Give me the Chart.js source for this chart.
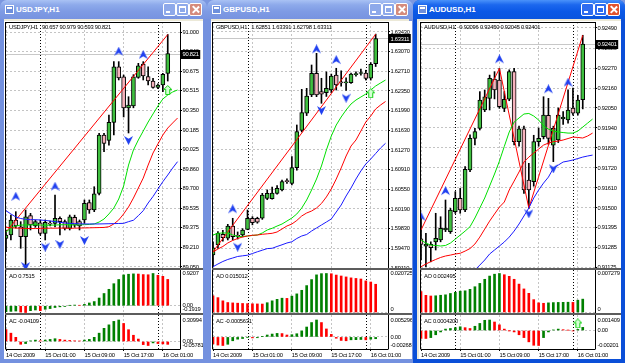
<!DOCTYPE html>
<html><head><meta charset="utf-8">
<script src="https://cdn.jsdelivr.net/npm/chart.js@4.4.1/dist/chart.umd.min.js"></script>
<style>
html,body{margin:0;padding:0}
body{width:625px;height:363px;overflow:hidden;position:relative;background:#7b97e0;font-family:"Liberation Sans",Arial,sans-serif}
.win{position:absolute;top:0;height:363px;box-sizing:border-box;border-radius:7px 7px 0 0;overflow:hidden}
.win.ina{background:#7491df}
.win.act{background:#0b4fd8}
.tb{position:absolute;left:0;right:0;top:0;height:19px}
.ina .tb{background:linear-gradient(#a9c2f4 0%,#8eaaeb 25%,#7e9be4 60%,#7793e0 100%)}
.act .tb{background:linear-gradient(#4a92fa 0%,#1c68ee 25%,#0b58e6 60%,#0a54de 100%)}
.ico{position:absolute;left:5px;top:5px;width:7px;height:7px;border:1px solid #fff;background:#6d8fdc}
.ico::after{content:'';position:absolute;left:1px;top:1px;width:5px;height:2px;background:#fff}
.tt{position:absolute;left:16px;top:4px;font:bold 8px "Liberation Sans",Arial,sans-serif;color:#fff;white-space:nowrap;line-height:11px}
.b{position:absolute;top:3px;width:11px;height:11px;border:1px solid #fff;border-radius:2px}
.ina .b{background:#8ea9ea}
.act .b{background:#2f6cf0}
.ina .b.cls{background:#d58b7c}
.act .b.cls{background:#e2532c}
.b.mn{right:31px}.b.mx{right:18px}.b.cls{right:5px}
.b.mn::after{content:'';position:absolute;left:2px;top:7px;width:4px;height:2px;background:#fff}
.b.mx::after{content:'';position:absolute;left:2px;top:2px;width:5px;height:4px;border:1px solid #fff;border-top-width:2px}
.b.cls::before,.b.cls::after{content:'';position:absolute;left:5px;top:1px;width:1.5px;height:9px;background:#fff;transform:rotate(45deg)}
.b.cls::after{transform:rotate(-45deg)}
.cl{position:absolute;left:4px;right:4px;top:19px;bottom:4px;background:#ece9d8}
.cw{position:absolute;background:#fff}
.sep{position:absolute;height:2px;background:#5c5c5c}
canvas{position:absolute}
</style>
</head><body>
<script>
// ---------------- shared time axis ----------------
const barHours = [17,18,19,20,21,22,23,0,1,2,3,4,5,6,7,8,9,10,11,12,13,14,15,16,17,18,19,20,21,22,23,0,1,2];
const xTickIndex = [0, 8, 16, 24, 32];
const xTickLabels = ['14 Oct 2009', '15 Oct 01:00', '15 Oct 09:00', '15 Oct 17:00', '16 Oct 01:00'];

// ---------------- USDJPY ----------------
const usdjpyTicks = ['91.000','90.840','90.675','90.515','90.350','90.185','90.025','89.860','89.700','89.535','89.375','89.210','89.050'];
const usdjpyRange = [89.0415, 91.083];
const usdjpyOpen  = [89.288,89.315,89.440,89.384,89.301,89.476,89.390,89.417,89.329,89.410,89.412,89.454,89.426,89.371,89.462,89.426,89.440,89.584,89.523,89.661,90.145,90.100,90.250,90.710,90.627,90.369,90.386,90.624,90.734,90.630,90.593,90.541,90.560,90.657];
const usdjpyHigh  = [89.357,89.481,89.509,89.426,89.523,89.495,89.440,89.440,89.440,89.430,89.647,89.467,89.440,89.481,89.480,89.440,89.606,89.606,89.716,90.159,90.159,90.311,90.754,90.754,90.643,90.463,90.646,90.740,90.754,90.712,90.616,90.570,90.657,90.979];
const usdjpyLow   = [89.177,89.274,89.373,89.205,89.066,89.357,89.380,89.315,89.274,89.390,89.384,89.315,89.357,89.357,89.380,89.357,89.412,89.495,89.509,89.647,90.007,90.060,90.145,90.602,90.295,90.162,90.371,90.616,90.602,90.560,90.533,90.530,90.505,90.593];
const usdjpyClose = [89.315,89.440,89.390,89.301,89.467,89.398,89.426,89.329,89.420,89.405,89.454,89.426,89.371,89.467,89.396,89.390,89.578,89.523,89.656,90.145,90.076,90.250,90.712,90.618,90.369,90.394,90.629,90.720,90.635,90.593,90.541,90.560,90.649,90.821];
const usdjpyJaw   = [89.517,89.490,89.465,89.452,89.446,89.443,89.442,89.440,89.436,89.432,89.426,89.421,89.415,89.412,89.410,89.408,89.407,89.407,89.407,89.407,89.408,89.409,89.410,89.411,89.412,89.426,89.438,89.476,89.517,89.581,89.635,89.697,89.758,89.813,89.871,89.924];
const usdjpyTeeth = [89.380,89.376,89.373,89.371,89.370,89.369,89.369,89.370,89.371,89.372,89.372,89.373,89.372,89.371,89.372,89.373,89.374,89.375,89.376,89.377,89.378,89.384,89.407,89.440,89.490,89.548,89.622,89.705,89.788,89.896,89.996,90.071,90.145,90.203,90.245,90.286];
const usdjpyLips  = [89.340,89.373,89.390,89.398,89.398,89.399,89.400,89.398,89.396,89.397,89.398,89.400,89.401,89.400,89.399,89.400,89.401,89.403,89.407,89.423,89.448,89.490,89.539,89.614,89.722,89.896,90.021,90.104,90.178,90.253,90.320,90.386,90.444,90.477,90.502,90.519];
const usdjpyZigZag = [[0, 89.340], [33, 90.979]];
const usdjpyFractalUp = [[2, 89.633], [10, 89.716], [23, 90.837], [28, 90.809]];
const usdjpyFractalDown = [[4, 89.058], [8, 89.218], [11, 89.241], [16, 89.274], [25, 90.104]];
const usdjpySignal = [[33, 90.519]];
const usdjpyAO = [-0.17,-0.16,-0.15,-0.18,-0.1919,-0.14,-0.12,-0.14,-0.10,-0.08,-0.05,-0.03,-0.02,0.01,0.02,0.015,0.04,0.08,0.12,0.22,0.35,0.47,0.63,0.75,0.88,0.90,0.91,0.905,0.89,0.885,0.9207,0.87,0.84,0.7515];
const usdjpyAC = [0.17,0.12,0.06,-0.04,-0.03,0.01,0.02,0.01,0.02,0.03,0.04,0.03,0.02,0.015,0.01,0.008,0.02,0.03,0.06,0.12,0.19,0.24,0.29,0.30994,0.26,0.17,0.09,0.035,-0.045,-0.05781,-0.02,-0.03,-0.035,-0.04109];
const usdjpyAOLevels = [[0.9207,'0.9207'],[0,'0.00'],[-0.1919,'-0.1919']];
const usdjpyACLevels = [[0.30994,'0.30994'],[0,'0.00'],[-0.05781,'-0.05781']];

// ---------------- GBPUSD ----------------
const gbpusdTicks = ['1.63430','1.63070','1.62710','1.62350','1.61990','1.61630','1.61270','1.60910','1.60550','1.60190','1.59830','1.59470','1.59110'];
const gbpusdRange = [1.59110, 1.63613];
const gbpusdOpen  = [1.59350,1.59531,1.59727,1.59654,1.59879,1.59710,1.59714,1.59818,1.60020,1.60020,1.60020,1.60385,1.60380,1.60477,1.60538,1.60700,1.60660,1.60946,1.61630,1.61942,1.62277,1.62674,1.62340,1.62320,1.62368,1.62643,1.62520,1.62500,1.62502,1.62650,1.62670,1.62680,1.62583,1.62851];
const gbpusdHigh  = [1.59591,1.59775,1.59800,1.59909,1.60020,1.59770,1.59830,1.60172,1.60050,1.60040,1.60477,1.60540,1.60590,1.60620,1.60720,1.60740,1.61148,1.61728,1.62381,1.62399,1.62826,1.63040,1.62583,1.62700,1.62660,1.62766,1.62720,1.62590,1.62680,1.62700,1.62750,1.62730,1.62870,1.63391];
const gbpusdLow   = [1.59134,1.59471,1.59600,1.59623,1.59623,1.59640,1.59680,1.59810,1.59900,1.59930,1.60000,1.60360,1.60370,1.60460,1.60520,1.60660,1.60629,1.60900,1.61600,1.61900,1.62246,1.62246,1.62125,1.62250,1.62320,1.62368,1.62440,1.62360,1.62490,1.62620,1.62640,1.62550,1.62550,1.62798];
const gbpusdClose = [1.59480,1.59745,1.59665,1.59879,1.59684,1.59690,1.59806,1.60020,1.59940,1.59950,1.60446,1.60477,1.60480,1.60569,1.60690,1.60690,1.60946,1.61605,1.61953,1.62258,1.62674,1.62277,1.62290,1.62400,1.62624,1.62460,1.62500,1.62510,1.62661,1.62660,1.62680,1.62580,1.62839,1.63311];
const gbpusdJaw   = [1.59134,1.59183,1.59229,1.59266,1.59293,1.59321,1.59333,1.59344,1.59375,1.59407,1.59436,1.59465,1.59471,1.59504,1.59535,1.59568,1.59590,1.59650,1.59696,1.59723,1.59787,1.59842,1.59897,1.59952,1.60007,1.60135,1.60263,1.60428,1.60574,1.60739,1.60886,1.61014,1.61105,1.61206,1.61307,1.61393];
const gbpusdTeeth = [1.59403,1.59458,1.59504,1.59568,1.59614,1.59650,1.59677,1.59696,1.59709,1.59714,1.59727,1.59736,1.59745,1.59769,1.59824,1.59879,1.59915,1.59980,1.60062,1.60117,1.60153,1.60208,1.60291,1.60410,1.60556,1.60739,1.60941,1.61160,1.61343,1.61453,1.61617,1.61783,1.61892,1.62021,1.62094,1.62158];
const gbpusdLips  = [1.59714,1.59745,1.59751,1.59751,1.59714,1.59687,1.59687,1.59696,1.59705,1.59714,1.59751,1.59806,1.59837,1.59878,1.59915,1.59970,1.60025,1.60099,1.60208,1.60355,1.60538,1.60739,1.60977,1.61270,1.61526,1.61727,1.61874,1.62002,1.62112,1.62185,1.62240,1.62295,1.62368,1.62442,1.62497,1.62551];
const gbpusdZigZag = [[0, 1.59408], [33, 1.63391]];
const gbpusdFractalUp = [[4, 1.60185], [21, 1.63113], [25, 1.62917]];
const gbpusdFractalDown = [[5, 1.59500], [22, 1.62002], [27, 1.62227]];
const gbpusdSignal = [[32, 1.62308]];
const gbpusdAO = [0.00880,0.00790,0.00620,0.00530,0.00510,0.00495,0.00480,0.00470,0.00462,0.00455,0.00450,0.00520,0.00620,0.00700,0.00760,0.00750,0.00870,0.00990,0.01180,0.01430,0.01750,0.02000,0.02065,0.020725,0.02060,0.01990,0.01940,0.01890,0.01840,0.01810,0.01780,0.01680,0.01620,0.015012];
const gbpusdAC = [-0.00220,-0.00255,-0.00268,-0.00230,-0.00120,-0.00070,-0.00050,-0.00010,-0.00030,-0.00025,0.00010,0.00060,0.00090,0.00110,0.00105,0.00060,0.00070,0.00100,0.00190,0.00310,0.00450,0.005296,0.00450,0.00250,0.00080,-0.00040,-0.00110,-0.00120,-0.00090,-0.00085,-0.00080,-0.00090,-0.00070,-0.0005631];
const gbpusdAOLevels = [[0.020725,'0.020725'],[0,'0']];
const gbpusdACLevels = [[0.005296,'0.005296'],[0,'0.00'],[-0.00268,'-0.00268']];

// ---------------- AUDUSD ----------------
const audusdTicks = ['0.92490','0.92380','0.92270','0.92160','0.92050','0.91940','0.91830','0.91720','0.91610','0.91500','0.91395','0.91285','0.91175'];
const audusdRange = [0.91170, 0.92523];
const audusdOpen  = [0.91330,0.91290,0.91300,0.91314,0.91324,0.91379,0.91370,0.91480,0.91553,0.91489,0.91709,0.91883,0.91938,0.92039,0.92103,0.92209,0.92204,0.92048,0.92098,0.92250,0.91865,0.91935,0.91654,0.91645,0.91865,0.91892,0.92010,0.91846,0.91874,0.91990,0.91984,0.92049,0.92021,0.92096];
const audusdHigh  = [0.91460,0.91361,0.91314,0.91471,0.91452,0.91544,0.91498,0.91590,0.91608,0.91728,0.91902,0.91938,0.92140,0.92149,0.92231,0.92250,0.92268,0.92140,0.92260,0.92268,0.91950,0.91950,0.91746,0.91900,0.91940,0.92112,0.92103,0.91950,0.92050,0.92030,0.92150,0.92160,0.92120,0.92450];
const audusdLow   = [0.91215,0.91177,0.91204,0.91269,0.91314,0.91370,0.91360,0.91470,0.91471,0.91480,0.91700,0.91847,0.91929,0.92030,0.92039,0.92100,0.92048,0.92030,0.92090,0.91847,0.91840,0.91580,0.91498,0.91620,0.91840,0.91880,0.91850,0.91755,0.91860,0.91960,0.91966,0.92011,0.92010,0.92045];
const audusdClose = [0.91300,0.91302,0.91282,0.91333,0.91388,0.91390,0.91489,0.91553,0.91489,0.91713,0.91883,0.91920,0.92094,0.92112,0.92213,0.92149,0.92057,0.92098,0.92250,0.91865,0.91935,0.91599,0.91599,0.91865,0.91883,0.92011,0.91883,0.91938,0.92011,0.92000,0.92039,0.92021,0.92094,0.92401];
const audusdJaw   = [null,null,null,null,null,null,null,null,null,null,0.91137,0.91159,0.91186,0.91214,0.91247,0.91269,0.91291,0.91313,0.91340,0.91373,0.91412,0.91456,0.91500,0.91555,0.91599,0.91637,0.91670,0.91718,0.91736,0.91753,0.91758,0.91764,0.91772,0.91780,0.91786,0.91791];
const audusdTeeth = [0.91177,0.91192,0.91205,0.91217,0.91228,0.91236,0.91241,0.91247,0.91251,0.91263,0.91277,0.91302,0.91340,0.91384,0.91428,0.91467,0.91505,0.91533,0.91599,0.91648,0.91698,0.91753,0.91780,0.91802,0.91824,0.91846,0.91857,0.91865,0.91868,0.91874,0.91882,0.91890,0.91888,0.91885,0.91896,0.91912];
const audusdLips  = [0.91324,0.91307,0.91296,0.91294,0.91291,0.91294,0.91307,0.91329,0.91351,0.91373,0.91397,0.91445,0.91500,0.91555,0.91621,0.91687,0.91758,0.91839,0.91918,0.91973,0.91995,0.92017,0.92020,0.92006,0.91984,0.91951,0.91934,0.91923,0.91918,0.91915,0.91912,0.91912,0.91923,0.91945,0.91967,0.91989];
const audusdZigZag = [[0, 0.91379], [16, 0.92268], [22, 0.91499], [33, 0.92450]];
const audusdFractalUp = [[0, 0.91452], [5, 0.91593], [16, 0.92318], [26, 0.92153], [30, 0.92189]];
const audusdFractalDown = [[22, 0.91471], [27, 0.91718]];
const audusdACSignal = [[32, 0.00094]];
const audusdAO = [0.00389,0.00320,0.00308,0.00312,0.00322,0.00330,0.00355,0.00376,0.00398,0.00405,0.00432,0.00481,0.00543,0.00620,0.00680,0.00715,0.007279,0.00705,0.00675,0.00620,0.00530,0.00440,0.00358,0.00240,0.00180,0.00172,0.00180,0.00185,0.00188,0.00190,0.00192,0.00189,0.00230,0.002495];
const audusdAC = [-0.00107,-0.00107,-0.00095,-0.00057,-0.00019,0.00019,0.00027,0.00038,0.00050,0.00038,0.00027,0.00057,0.00095,0.00137,0.001409,0.00114,0.00076,0.00019,-0.00002,-0.00019,-0.00057,-0.00095,-0.00152,-0.00198,-0.00201,-0.00095,-0.00019,0.00008,0.00019,0.00011,0.00004,-0.00004,0.00015,0.00042];
const audusdAOLevels = [[0.007279,'0.007279'],[0,'0']];
const audusdACLevels = [[0.001409,'0.001409'],[0,'0.00'],[-0.00201,'-0.00201']];

// ---------------- configuration (layout / style) ----------------
const daySeparators = barHours.map((h,i)=> h===0 ? i : -1).filter(i=>i>=0);
const X_MAX = 35.5;
const FONT = '"Liberation Sans", Arial, sans-serif';
const FS = 5.8;
const LS = '-0.25px';
const BULL='#3fbf3f', BEAR='#f6b3bd', H_UP='#008000', H_DN='#ff0000';
const JAW='#1a1aff', TEETH='#ff0000', LIPS='#00e000', ZZ='#ff0000', GRID='#c4c4c4';

const windowsCfg = [
  {title:'USDJPY,H1', left:0, width:207, active:false, plotL:6, plotW:174, axisW:23, digits:3,
   open:usdjpyOpen, high:usdjpyHigh, low:usdjpyLow, close:usdjpyClose, jaw:usdjpyJaw, teeth:usdjpyTeeth, lips:usdjpyLips,
   zigzag:usdjpyZigZag, fUp:usdjpyFractalUp, fDn:usdjpyFractalDown, signal:usdjpySignal, ticks:usdjpyTicks, range:usdjpyRange,
   ao:usdjpyAO, ac:usdjpyAC, aoLv:usdjpyAOLevels, acLv:usdjpyACLevels, aoText:'AO 0.7515', acText:'AC -0.04109', aoFirstUp:true, acFirstUp:false, acSignal:[]},
  {title:'GBPUSD,H1', left:207, width:206, active:false, plotL:213, plotW:175, axisW:24, digits:5,
   open:gbpusdOpen, high:gbpusdHigh, low:gbpusdLow, close:gbpusdClose, jaw:gbpusdJaw, teeth:gbpusdTeeth, lips:gbpusdLips,
   zigzag:gbpusdZigZag, fUp:gbpusdFractalUp, fDn:gbpusdFractalDown, signal:gbpusdSignal, ticks:gbpusdTicks, range:gbpusdRange,
   ao:gbpusdAO, ac:gbpusdAC, aoLv:gbpusdAOLevels, acLv:gbpusdACLevels, aoText:'AO 0.015012', acText:'AC -0.0005631', aoFirstUp:false, acFirstUp:false, acSignal:[]},
  {title:'AUDUSD,H1', left:413, width:212, active:true, plotL:421, plotW:174, axisW:26, digits:5,
   open:audusdOpen, high:audusdHigh, low:audusdLow, close:audusdClose, jaw:audusdJaw, teeth:audusdTeeth, lips:audusdLips,
   zigzag:audusdZigZag, fUp:audusdFractalUp, fDn:audusdFractalDown, signal:[], ticks:audusdTicks, range:audusdRange,
   ao:audusdAO, ac:audusdAC, aoLv:audusdAOLevels, acLv:audusdACLevels, aoText:'AO 0.002495', acText:'AC 0.0004200', aoFirstUp:false, acFirstUp:false, acSignal:audusdACSignal}
];

Chart.defaults.font.family = FONT;
Chart.defaults.font.size = FS;
Chart.defaults.color = '#000';

function mkCanvas(w,h,draw){ const c=document.createElement('canvas'); c.width=w; c.height=h; draw(c.getContext('2d')); return c; }
const UP_IMG = mkCanvas(9,10,g=>{ g.fillStyle='#2040f0'; g.beginPath(); g.moveTo(4.5,0); g.lineTo(9,9); g.lineTo(4.5,6.2); g.lineTo(0,9); g.closePath(); g.fill(); });
const DN_IMG = mkCanvas(9,10,g=>{ g.fillStyle='#2040f0'; g.beginPath(); g.moveTo(4.5,10); g.lineTo(9,1); g.lineTo(4.5,3.8); g.lineTo(0,1); g.closePath(); g.fill(); });
const SIG_IMG = mkCanvas(9,10,g=>{ g.fillStyle='#d4ffd4'; g.strokeStyle='#10d010'; g.lineWidth=1; g.beginPath(); g.moveTo(4.5,0.5); g.lineTo(8.5,4.5); g.lineTo(6.5,4.5); g.lineTo(6.5,9.5); g.lineTo(2.5,9.5); g.lineTo(2.5,4.5); g.lineTo(0.5,4.5); g.closePath(); g.fill(); g.stroke(); });

function xy(arr){ return arr.map((v,i)=>({x:i, y:v})); }
function pts(pairs){ return pairs.map(p=>({x:p[0], y:p[1]})); }
function histColors(vals, firstUp){ return vals.map((v,i)=> (i===0 ? firstUp : v > vals[i-1]) ? H_UP : H_DN); }
function padRange(vals, H, pt, pb){ const mn=Math.min(0,...vals), mx=Math.max(...vals); const r=(mx-mn)*H/(H-pt-pb); return [mn - r*pb/H, mx + r*pt/H]; }

function el(cls, css, parent){ const d=document.createElement('div'); d.className=cls; Object.assign(d.style, css); (parent||document.body).appendChild(d); return d; }
function addCanvas(left, top, w, h){ const c=document.createElement('canvas'); c.width=w; c.height=h; c.style.left=left+'px'; c.style.top=top+'px'; c.style.width=w+'px'; c.style.height=h+'px'; document.body.appendChild(c); return c; }

function xScale(showLabels){
  return {
    type:'linear', min:0, max:X_MAX, position:'bottom', offset:false,
    afterBuildTicks: s => { s.ticks = xTickIndex.map(v=>({value:v})); },
    afterFit: s => { s.height = showLabels ? 10 : 0; s.paddingLeft = 0; s.paddingRight = 0; },
    ticks: { display:showLabels, autoSkip:false, maxRotation:0, minRotation:0, align:'start', padding:1, font:{size:FS, family:FONT}, color:'#000', callback:(v,i)=>xTickLabels[i] },
    grid: { offset:false, color:GRID, lineWidth:1, drawTicks:showLabels, tickLength:2, tickColor:'#000' },
    border: { display:false, dash:[2,2] }
  };
}

function framePlugin(cfg, kind){
  return {
    id:'mtframe',
    beforeDraw(chart){ chart.ctx.letterSpacing = LS; },
    beforeDatasetsDraw(chart){
      const {ctx, chartArea:a, scales} = chart;
      ctx.save();
      ctx.strokeStyle='#000'; ctx.lineWidth=1; ctx.setLineDash([1,2]);
      daySeparators.forEach(i=>{ const px=Math.round(scales.x.getPixelForValue(i))+0.5; ctx.beginPath(); ctx.moveTo(px, a.top); ctx.lineTo(px, a.bottom); ctx.stroke(); });
      ctx.setLineDash([]);
      if (kind==='main'){
        const last = cfg.close[cfg.close.length-1];
        const py = Math.round(scales.y.getPixelForValue(last))+0.5;
        ctx.strokeStyle='#c8c8c8'; ctx.beginPath(); ctx.moveTo(a.left,py); ctx.lineTo(a.right,py); ctx.stroke();
      }
      ctx.restore();
    },
    afterDraw(chart){
      const {ctx, chartArea:a, scales} = chart;
      ctx.save();
      ctx.letterSpacing = LS;
      ctx.strokeStyle='#000'; ctx.lineWidth=1;
      const L=Math.round(a.left)-0.5, R=Math.round(a.right)+0.5;
      const line=(x1,y1,x2,y2)=>{ ctx.beginPath(); ctx.moveTo(x1,y1); ctx.lineTo(x2,y2); ctx.stroke(); };
      line(L,0,L,a.bottom); line(R,0,R,a.bottom);
      ctx.font = FS+'px '+FONT; ctx.textBaseline='middle'; ctx.fillStyle='#000';
      if (kind==='main'){
        line(L,a.top+0.5,R,a.top+0.5);
        const n=cfg.close.length-1, f=v=>v.toFixed(cfg.digits);
        ctx.fillText(cfg.title+'   '+[cfg.open[n],cfg.high[n],cfg.low[n],cfg.close[n]].map(f).join(' '), a.left+3, a.top+5);
        const txt=f(cfg.close[n]);
        const py=scales.y.getPixelForValue(cfg.close[n]);
        const tw=ctx.measureText(txt).width;
        ctx.fillStyle='#000'; ctx.fillRect(a.right+1, Math.round(py)-4, tw+3, 9);
        ctx.fillStyle='#fff'; ctx.fillText(txt, a.right+2.5, py+0.5);
      } else {
        if (kind==='ac') line(L,a.bottom+0.5,R,a.bottom+0.5);
        ctx.fillText(kind==='ao'?cfg.aoText:cfg.acText, a.left+3, 6);
        const lv = kind==='ao'?cfg.aoLv:cfg.acLv;
        lv.forEach(([v,t])=>{
          let y=scales.y.getPixelForValue(v);
          y=Math.max(3.5, Math.min(a.bottom-3.5, y));
          ctx.fillText(t, a.right+2.5, y);
        });
      }
      ctx.restore();
    }
  };
}

const baseOptions = () => ({
  responsive:false, animation:false, devicePixelRatio:1, events:[],
  layout:{autoPadding:false, padding:{left:1, right:0, top:0, bottom:0}},
  plugins:{legend:{display:false}, tooltip:{enabled:false}, title:{display:false}}
});

function buildMain(cfg){
  const cv = addCanvas(cfg.plotL-1, 22, cfg.plotW+cfg.axisW+1, 246);
  const lineDs = (data, color) => ({type:'line', data, borderColor:color, borderWidth:1, pointRadius:0, tension:0, order:2});
  const datasets = [
    lineDs(xy(cfg.jaw), JAW), lineDs(xy(cfg.teeth), TEETH), lineDs(xy(cfg.lips), LIPS),
    Object.assign(lineDs(pts(cfg.zigzag), ZZ), {spanGaps:true}),
    {type:'bar', data:cfg.open.map((o,i)=>({x:i, y:[cfg.low[i], cfg.high[i]]})), backgroundColor:'#000', barThickness:1, grouped:false, clip:0, order:6},
    {type:'bar', data:cfg.open.map((o,i)=>({x:i, y:[o, cfg.close[i]]})), backgroundColor:cfg.open.map((o,i)=> cfg.close[i]>=o?BULL:BEAR),
     borderColor:'#000', borderWidth:1, borderSkipped:false, barThickness:4, grouped:false, minBarLength:1, clip:0, order:5},
    {type:'line', data:pts(cfg.fUp), showLine:false, pointStyle:UP_IMG, pointRadius:4, order:1},
    {type:'line', data:pts(cfg.fDn), showLine:false, pointStyle:DN_IMG, pointRadius:4, order:1}
  ];
  if (cfg.signal.length) datasets.push({type:'line', data:pts(cfg.signal), showLine:false, pointStyle:SIG_IMG, pointRadius:4, order:0});
  const opts = baseOptions();
  opts.scales = {
    x: xScale(false),
    y: { type:'linear', position:'right', min:cfg.range[0], max:cfg.range[1],
      afterBuildTicks: s => { s.ticks = cfg.ticks.map(t=>({value:parseFloat(t)})); },
      afterFit: s => { s.width = cfg.axisW; s.paddingTop = 0; s.paddingBottom = 0; },
      ticks: { autoSkip:false, padding:0.5, font:{size:FS, family:FONT}, color:'#000', callback:(v,i)=>cfg.ticks[i] },
      grid: { color:GRID, tickColor:'#000', tickLength:2, drawTicks:true },
      border: { display:false, dash:[2,2] } }
  };
  new Chart(cv, {type:'bar', data:{datasets}, options:opts, plugins:[framePlugin(cfg,'main')]});
}

function buildSub(cfg, kind){
  const isAC = kind==='ac';
  const top = isAC ? 315 : 270, h = isAC ? 44 : 43, areaH = isAC ? 34 : 43;
  const vals = isAC ? cfg.ac : cfg.ao;
  const rng = padRange(vals, areaH, isAC?5:3.5, isAC?3.5:0.5);
  const cv = addCanvas(cfg.plotL-1, top, cfg.plotW+cfg.axisW+1, h);
  const datasets = [{type:'bar', data:xy(vals), backgroundColor:histColors(vals, isAC?cfg.acFirstUp:cfg.aoFirstUp), barThickness:2, grouped:false, clip:0, order:2}];
  if (isAC && cfg.acSignal.length) datasets.push({type:'line', data:pts(cfg.acSignal), showLine:false, pointStyle:SIG_IMG, pointRadius:4, order:0});
  const opts = baseOptions();
  opts.scales = {
    x: xScale(isAC),
    y: { type:'linear', position:'right', min:rng[0], max:rng[1],
      afterBuildTicks: s => { s.ticks = [{value:0}]; },
      afterFit: s => { s.width = cfg.axisW; s.paddingTop = 0; s.paddingBottom = 0; },
      ticks: { display:false },
      grid: { color:GRID, drawTicks:false },
      border: { display:false, dash:[2,2] } }
  };
  new Chart(cv, {type:'bar', data:{datasets}, options:opts, plugins:[framePlugin(cfg,kind)]});
}

windowsCfg.forEach(cfg=>{
  const w = el('win '+(cfg.active?'act':'ina'), {left:cfg.left+'px', width:cfg.width+'px'});
  const tb = el('tb', {}, w);
  el('ico', {}, tb);
  const tt = el('tt', {}, tb); tt.textContent = cfg.title;
  el('b mn', {}, tb); el('b mx', {}, tb); el('b cls', {}, tb);
  el('cl', {}, w);
  const right = cfg.plotL + cfg.plotW + cfg.axisW;
  el('cw', {left:(cfg.plotL-2)+'px', top:'21px', width:(right-(cfg.plotL-2))+'px', height:'338px'});
  el('sep', {left:(cfg.plotL-1)+'px', top:'268px', width:(cfg.plotW+cfg.axisW+1)+'px'});
  el('sep', {left:(cfg.plotL-1)+'px', top:'313px', width:(cfg.plotW+cfg.axisW+1)+'px'});
  buildMain(cfg);
  buildSub(cfg,'ao');
  buildSub(cfg,'ac');
});
</script>
</body></html>
